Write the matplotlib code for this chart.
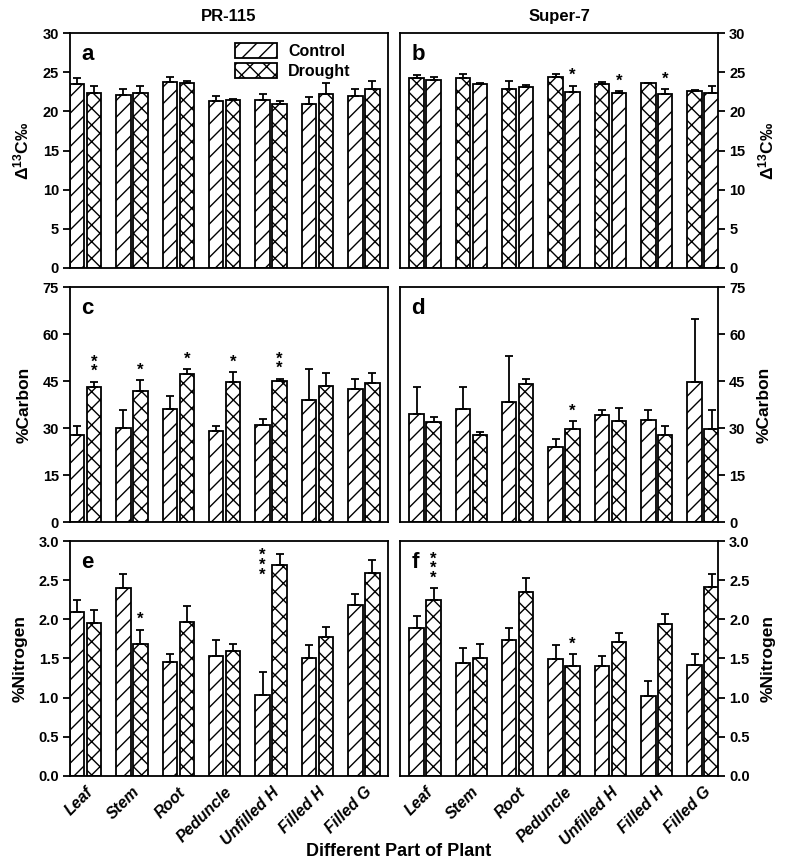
import numpy as np
import matplotlib
matplotlib.use('Agg')
import matplotlib.pyplot as plt
from matplotlib.patches import Patch

plt.rcParams['font.family'] = ['Liberation Sans', 'DejaVu Sans']
plt.rcParams['font.weight'] = 'bold'
plt.rcParams['axes.labelweight'] = 'bold'
plt.rcParams['mathtext.fontset'] = 'custom'
plt.rcParams['mathtext.rm'] = 'Liberation Sans:bold'
plt.rcParams['mathtext.default'] = 'rm'
plt.rcParams['hatch.linewidth'] = 1.0

parts = ['Leaf', 'Stem', 'Root', 'Peduncle', 'Unfilled H', 'Filled H', 'Filled G']

# PR-115
pr_d13c_control = [23.5, 22.1, 23.7, 21.3, 21.4, 21.0, 22.0]
pr_d13c_control_se = [0.8, 0.7, 0.7, 0.6, 0.8, 0.8, 0.8]
pr_d13c_drought = [22.4, 22.3, 23.6, 21.4, 21.0, 22.2, 22.8]
pr_d13c_drought_se = [0.8, 1.0, 0.3, 0.15, 0.3, 1.4, 1.1]

pr_carbon_control = [27.7, 29.9, 36.0, 29.0, 30.9, 38.9, 42.6]
pr_carbon_control_se = [3.1, 5.9, 4.2, 1.5, 2.0, 10.1, 3.1]
pr_carbon_drought = [43.0, 41.9, 47.2, 44.6, 45.0, 43.4, 44.4]
pr_carbon_drought_se = [1.8, 3.4, 1.5, 3.3, 0.8, 4.2, 3.3]

pr_nitrogen_control = [2.09, 2.40, 1.45, 1.53, 1.03, 1.51, 2.18]
pr_nitrogen_control_se = [0.16, 0.18, 0.11, 0.20, 0.30, 0.16, 0.14]
pr_nitrogen_drought = [1.95, 1.69, 1.97, 1.59, 2.69, 1.78, 2.59]
pr_nitrogen_drought_se = [0.17, 0.18, 0.20, 0.10, 0.14, 0.12, 0.17]

# Super-7 (panel b is drawn with the patterns swapped, as in the original)
s7_d13c_first = [24.2, 24.3, 22.9, 24.4, 23.5, 23.6, 22.6]
s7_d13c_first_se = [0.45, 0.45, 1.0, 0.4, 0.2, 0.05, 0.15]
s7_d13c_second = [24.0, 23.5, 23.1, 22.5, 22.3, 22.2, 22.3]
s7_d13c_second_se = [0.4, 0.1, 0.3, 0.8, 0.3, 0.6, 1.0]

s7_carbon_control = [34.4, 36.2, 38.4, 24.0, 34.3, 32.6, 44.8]
s7_carbon_control_se = [8.8, 7.0, 14.5, 2.6, 1.5, 3.2, 20.0]
s7_carbon_drought = [31.8, 27.9, 44.2, 29.8, 32.2, 27.7, 29.8]
s7_carbon_drought_se = [1.7, 0.7, 1.6, 2.3, 4.3, 2.8, 6.0]

s7_nitrogen_control = [1.89, 1.44, 1.73, 1.49, 1.40, 1.02, 1.42]
s7_nitrogen_control_se = [0.15, 0.19, 0.16, 0.18, 0.13, 0.19, 0.14]
s7_nitrogen_drought = [2.25, 1.51, 2.35, 1.41, 1.71, 1.94, 2.41]
s7_nitrogen_drought_se = [0.15, 0.18, 0.18, 0.15, 0.12, 0.13, 0.17]

# significance marks (second bar of each pair unless noted)
stars_a = ['', '', '', '', '', '', '']
stars_b = ['', '', '', '*', '*', '*', '']
stars_c = ['**', '*', '*', '*', '**', '', '']
stars_d = ['', '', '', '*', '', '', '']
stars_e = ['', '*', '', '', '', '', '']
stars_f = ['***', '', '', '*', '', '', '']

DIAG = '//'
CROSS = 'xx'

fig = plt.figure(figsize=(7.98, 8.67), dpi=100)
W = 318 / 798
H = 0.2710
xl, xr = 70 / 798, 400 / 798
rows = [0.6909, 0.3979, 0.1050]

x = np.arange(len(parts))
bw = 0.31
off = 0.183


def draw_pair(ax, v1, e1, h1, v2, e2, h2, stars, star_gap):
    for vals, errs, hatch, pos in [(v1, e1, h1, x - off), (v2, e2, h2, x + off)]:
        ax.bar(pos, vals, bw, color='white', edgecolor='black', linewidth=1.3, hatch=hatch)
        ax.errorbar(pos, vals, yerr=[np.zeros(len(vals)), errs], fmt='none', ecolor='black',
                    elinewidth=1.3, capsize=3, capthick=1.3)
    for i, s in enumerate(stars):
        if s:
            top = v2[i] + e2[i]
            ax.text(x[i] + off, top + star_gap, '\n'.join(s), ha='center', va='bottom',
                    fontsize=12, linespacing=0.55)


def style(ax, right, ylim, yticks, fmt, letter):
    ax.set_ylim(*ylim)
    ax.set_yticks(yticks)
    ax.set_yticklabels([fmt.format(t) for t in yticks])
    if right:
        ax.set_xlim(-0.54, 6.32)
        ax.yaxis.tick_right()
        ax.yaxis.set_label_position('right')
    else:
        ax.set_xlim(-0.334, 6.52)
    ax.tick_params(axis='y', direction='out', length=5, width=1.3, labelsize=10.5, pad=3)
    ax.tick_params(axis='x', length=0)
    ax.set_xticks(x)
    ax.set_xticklabels([])
    for sp in ax.spines.values():
        sp.set_linewidth(1.3)
    ax.text(0.035, 0.955, letter, transform=ax.transAxes, ha='left', va='top',
            fontsize=16, fontweight='bold')


panels = {}
for r, y0 in enumerate(rows):
    panels[(r, 0)] = fig.add_axes([xl, y0, W, H])
    panels[(r, 1)] = fig.add_axes([xr, y0, W, H])

d13c_ticks = [0, 5, 10, 15, 20, 25, 30]
carbon_ticks = [0, 15, 30, 45, 60, 75]
nitrogen_ticks = [0.0, 0.5, 1.0, 1.5, 2.0, 2.5, 3.0]

ax = panels[(0, 0)]
draw_pair(ax, pr_d13c_control, pr_d13c_control_se, DIAG,
          pr_d13c_drought, pr_d13c_drought_se, CROSS, stars_a, 0.3)
style(ax, False, (0, 30), d13c_ticks, '{:g}', 'a')
ax.set_ylabel(r'$\Delta^{13}$C‰', fontsize=12.5, labelpad=8)
ax.set_title('PR-115', fontsize=12, fontweight='bold', pad=9)
handles = [Patch(facecolor='white', edgecolor='black', hatch=DIAG, linewidth=1.3, label='Control'),
           Patch(facecolor='white', edgecolor='black', hatch=CROSS, linewidth=1.3, label='Drought')]
ax.legend(handles=handles, loc='upper left', bbox_to_anchor=(0.49, 1.0), frameon=False,
          fontsize=11.5, handlelength=2.6, handleheight=1.1, handletextpad=0.7,
          labelspacing=0.25, borderaxespad=0.2)

ax = panels[(0, 1)]
draw_pair(ax, s7_d13c_first, s7_d13c_first_se, CROSS,
          s7_d13c_second, s7_d13c_second_se, DIAG, stars_b, 0.3)
style(ax, True, (0, 30), d13c_ticks, '{:g}', 'b')
ax.set_ylabel(r'$\Delta^{13}$C‰', fontsize=12.5, labelpad=8)
ax.set_title('Super-7', fontsize=12, fontweight='bold', pad=9)

ax = panels[(1, 0)]
draw_pair(ax, pr_carbon_control, pr_carbon_control_se, DIAG,
          pr_carbon_drought, pr_carbon_drought_se, CROSS, stars_c, 0.8)
style(ax, False, (0, 75), carbon_ticks, '{:g}', 'c')
ax.set_ylabel('%Carbon', fontsize=12.5, labelpad=8)

ax = panels[(1, 1)]
draw_pair(ax, s7_carbon_control, s7_carbon_control_se, DIAG,
          s7_carbon_drought, s7_carbon_drought_se, CROSS, stars_d, 0.8)
style(ax, True, (0, 75), carbon_ticks, '{:g}', 'd')
ax.set_ylabel('%Carbon', fontsize=12.5, labelpad=8)

ax = panels[(2, 0)]
draw_pair(ax, pr_nitrogen_control, pr_nitrogen_control_se, DIAG,
          pr_nitrogen_drought, pr_nitrogen_drought_se, CROSS, stars_e, 0.03)
style(ax, False, (0, 3), nitrogen_ticks, '{:.1f}', 'e')
ax.set_ylabel('%Nitrogen', fontsize=12.5, labelpad=8)
# the Unfilled H mark sits high, level with the drought bar top
ax.text(x[4] - off, pr_nitrogen_drought[4], '*\n*\n*', ha='center', va='center',
        fontsize=12, linespacing=0.55)

ax = panels[(2, 1)]
draw_pair(ax, s7_nitrogen_control, s7_nitrogen_control_se, DIAG,
          s7_nitrogen_drought, s7_nitrogen_drought_se, CROSS, stars_f, 0.03)
style(ax, True, (0, 3), nitrogen_ticks, '{:.1f}', 'f')
ax.set_ylabel('%Nitrogen', fontsize=12.5, labelpad=8)

for c in (0, 1):
    ax = panels[(2, c)]
    ax.set_xticklabels(parts, rotation=45, ha='right', va='top', rotation_mode='anchor',
                       fontsize=11.5, fontstyle='italic', fontweight='bold')
    ax.tick_params(axis='x', pad=6)

fig.text(0.5, 0.018, 'Different Part of Plant', ha='center', va='center',
         fontsize=13, fontweight='bold')

fig.savefig('out.png', dpi=100)
